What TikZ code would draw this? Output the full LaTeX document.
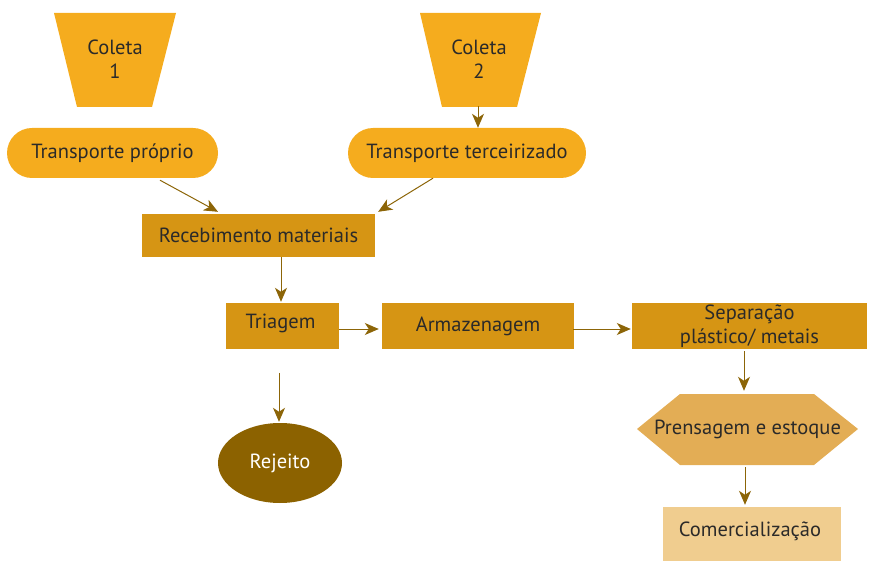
\documentclass[tikz,border=0pt]{standalone}
\usepackage{fontspec}
\setmainfont{PT Sans}
\usetikzlibrary{arrows.meta,shapes.geometric,calc}
\definecolor{gold}{HTML}{F5AC1E}
\definecolor{ochre}{HTML}{D69514}
\definecolor{sand}{HTML}{E3AD55}
\definecolor{wheat}{HTML}{F0CD8F}
\definecolor{bronze}{HTML}{8C6200}
\definecolor{arrowc}{HTML}{8C6508}
\definecolor{ink}{HTML}{2B2A29}

\begin{document}
\begin{tikzpicture}[x=1pt,y=-1pt,
  font=\fontsize{20.5}{24}\selectfont,
  every node/.style={text=ink, inner sep=0pt, align=center},
  procbox/.style={fill=ochre, minimum height=46pt, minimum width=#1},
  pill/.style={fill=gold, rounded corners=25pt, minimum height=50pt, minimum width=#1},
  hold/.style={minimum width=#1, minimum height=94pt},
  flow/.style={draw=arrowc, line width=1pt,
    -{Stealth[length=14pt,width=12pt,inset=4pt]}}]
\useasboundingbox (0,0) rectangle (870,561);

% collection funnels
\fill[gold] (54,13) -- (176,13) -- (152,107) -- (77,107) -- cycle;
\node[hold=75pt] (c1) at (115,59) {Coleta\\1};
\fill[gold] (420,13) -- (541,13) -- (517,107) -- (442,107) -- cycle;
\node[hold=75pt] (c2) at (479,59) {Coleta\\2};

% transport
\node[pill=211pt] (tp) at (112.5,153) {Transporte próprio};
\node[pill=238pt] (tt) at (467,153) {Transporte terceirizado};

% process chain
\node[procbox=233pt, minimum height=43pt] (rec) at (258.5,235.5) {Recebimento materiais};
\node[procbox=113pt] (tri) at (282.5,326) {};
\node at ($(tri)+(-2,-3)$) {Triagem};
\node[procbox=192pt] (arm) at (478,326) {Armazenagem};
\node[procbox=235pt] (sep) at (749.5,326) {Separação\\plástico/ metais};

% reject
\node[ellipse, fill=bronze, minimum width=124pt, minimum height=80pt,
      text=white] (rej) at (280,463) {Rejeito};

% pressing and sales
\fill[sand] (637,429) -- (680,394) -- (814,394) -- (858,429) -- (814,465) -- (680,465) -- cycle;
\node[minimum width=221pt, minimum height=71pt] (pre) at (747.5,429.5) {Prensagem e estoque};
\node[fill=wheat, minimum width=178pt, minimum height=54pt] (com) at (752,534) {};
\node at ($(com)+(-2,-3)$) {Comercialização};

% connectors
\draw[flow] ($(tp.south)+(47.5,2)$) -- ($(rec.north)+(-40.5,-2)$);
\draw[flow] ($(tt.south)+(-34,0)$) -- ($(rec.north east)+(3,-2)$);
\draw[flow] ($(c2.south)+(-1,0)$) -- ($(c2.south |- tt.north)+(-1,0)$);
\draw[flow] ($(tri.north |- rec.south)+(-1.5,0)$) -- ($(tri.north)+(-1.5,-1)$);
\draw[flow] ($(tri.east)+(0,3)$) -- ($(arm.west)+(-3,3)$);
\draw[flow] ($(arm.east)+(-1,3)$) -- ($(sep.west)+(-1,3)$);
\draw[flow] ($(rej.north)+(-1,-50)$) -- ($(rej.north)+(-1,-1)$);
\draw[flow] ($(sep.south)+(-5.5,2)$) -- ($(pre.north)+(-3.5,-3)$);
\draw[flow] ($(pre.south)+(-2.5,2)$) -- ($(com.north)+(-7,-2)$);
\end{tikzpicture}
\end{document}
